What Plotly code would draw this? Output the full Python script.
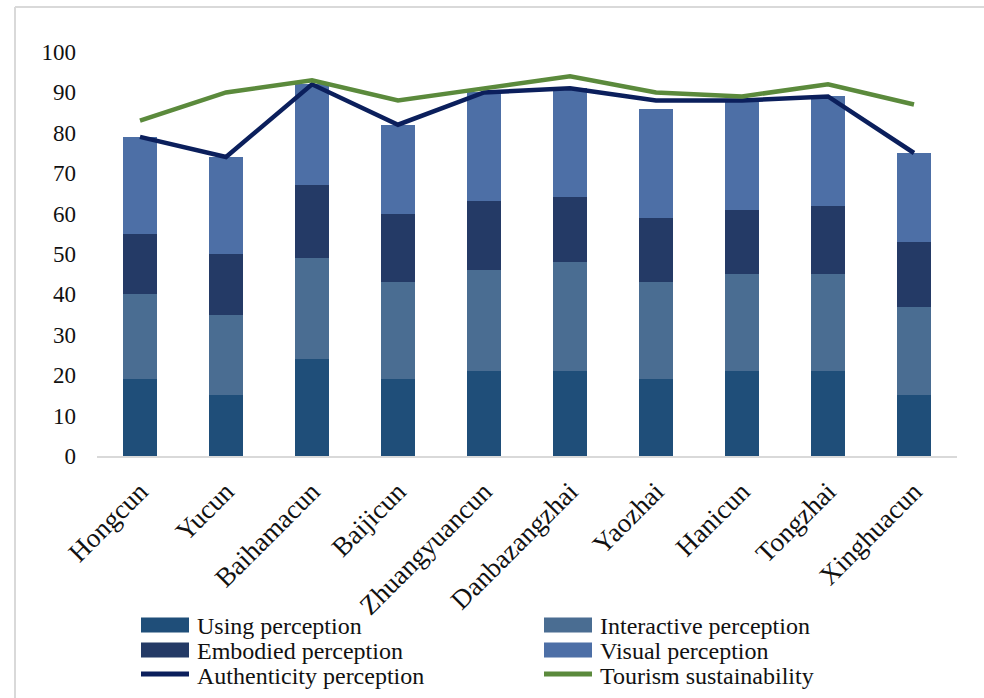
import plotly.graph_objects as go

categories = ["Hongcun", "Yucun", "Baihamacun", "Baijicun", "Zhuangyuancun",
              "Danbazangzhai", "Yaozhai", "Hanicun", "Tongzhai", "Xinghuacun"]
using_perception = [19, 15, 24, 19, 21, 21, 19, 21, 21, 15]
interactive_perception = [21, 20, 25, 24, 25, 27, 24, 24, 24, 22]
embodied_perception = [15, 15, 18, 17, 17, 16, 16, 16, 17, 16]
visual_perception = [24, 24, 25, 22, 27, 27, 27, 27, 27, 22]
authenticity_perception = [79, 74, 92, 82, 90, 91, 88, 88, 89, 75]
tourism_sustainability = [83, 90, 93, 88, 91, 94, 90, 89, 92, 87]
y_ticks = [0, 10, 20, 30, 40, 50, 60, 70, 80, 90, 100]

W, H = 984, 698
ML, MR, MT, MB = 97, 27, 52, 242
PW, PH = W - ML - MR, H - MT - MB

def px(x):
    return (x - ML) / PW

def py(y):
    return (H - MB - y) / PH

C_USING = "#1F4E79"
C_INTER = "#4A6D92"
C_EMB = "#243A66"
C_VIS = "#4D6FA6"
C_AUTH = "#0B1F5C"
C_TOUR = "#5B8A3C"
FONT = "Liberation Serif"

fig = go.Figure()
bars = [("Using perception", using_perception, C_USING),
        ("Interactive perception", interactive_perception, C_INTER),
        ("Embodied perception", embodied_perception, C_EMB),
        ("Visual perception", visual_perception, C_VIS)]
for name, vals, col in bars:
    fig.add_trace(go.Bar(x=categories, y=vals, name=name, marker_color=col,
                         marker_line_width=0, showlegend=False))
fig.add_trace(go.Scatter(x=categories, y=authenticity_perception, mode="lines",
                         name="Authenticity perception",
                         line=dict(color=C_AUTH, width=4.5), showlegend=False))
fig.add_trace(go.Scatter(x=categories, y=tourism_sustainability, mode="lines",
                         name="Tourism sustainability",
                         line=dict(color=C_TOUR, width=4.5), showlegend=False))

shapes = []
annotations = []
# outer frame (partially visible)
shapes.append(dict(type="line", xref="paper", yref="paper", x0=px(15), x1=px(15),
                   y0=py(7), y1=py(H + 5), line=dict(color="#D9D9D9", width=2)))
shapes.append(dict(type="line", xref="paper", yref="paper", x0=px(15), x1=px(W + 5),
                   y0=py(7), y1=py(7), line=dict(color="#D9D9D9", width=2)))

# custom legend
legend_items = [
    ("Using perception", C_USING, "rect", 141, 625),
    ("Interactive perception", C_INTER, "rect", 544, 625),
    ("Embodied perception", C_EMB, "rect", 141, 650),
    ("Visual perception", C_VIS, "rect", 544, 650),
    ("Authenticity perception", C_AUTH, "line", 141, 675),
    ("Tourism sustainability", C_TOUR, "line", 544, 675),
]
for text, col, kind, x0, yc in legend_items:
    if kind == "rect":
        shapes.append(dict(type="rect", xref="paper", yref="paper",
                           x0=px(x0), x1=px(x0 + 48), y0=py(yc - 7.5), y1=py(yc + 7.5),
                           fillcolor=col, line=dict(width=0)))
    else:
        shapes.append(dict(type="line", xref="paper", yref="paper",
                           x0=px(x0), x1=px(x0 + 48), y0=py(yc - 1), y1=py(yc - 1),
                           line=dict(color=col, width=5)))
    annotations.append(dict(text=text, xref="paper", yref="paper", x=px(x0 + 54),
                            y=py(yc + 1), xanchor="left", yanchor="middle",
                            showarrow=False, font=dict(family=FONT, size=24, color="#111111")))

fig.update_layout(
    width=W, height=H,
    margin=dict(l=ML, r=MR, t=MT, b=MB),
    barmode="stack", bargap=0.6,
    plot_bgcolor="white", paper_bgcolor="white",
    font=dict(family=FONT, color="#111111"),
    shapes=shapes, annotations=annotations,
    xaxis=dict(showgrid=False, showline=True, linecolor="#D9D9D9", linewidth=2,
               ticks="", tickangle=-45, ticklabelstandoff=7,
               tickfont=dict(family=FONT, size=27, color="#111111")),
    yaxis=dict(range=[0, 100], tickvals=y_ticks, showgrid=False, zeroline=False,
               showline=False, ticks="", ticklabelstandoff=20,
               tickfont=dict(family=FONT, size=23, color="#111111")),
)

fig.write_html("out.html")
